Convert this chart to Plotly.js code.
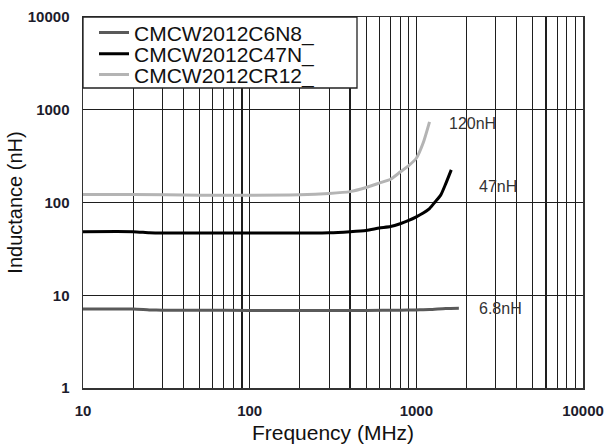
<!DOCTYPE html>
<html>
<head>
<meta charset="utf-8">
<script src="https://cdn.plot.ly/plotly-3.0.1.min.js"></script>
<style>
  html, body { margin: 0; padding: 0; background: #ffffff; }
  #chart { width: 607px; height: 448px; }
</style>
</head>
<body>
<div id="chart"></div>
<script>
// ---- data ----
const seriesNames = ['CMCW2012C6N8_', 'CMCW2012C47N_', 'CMCW2012CR12_'];

const freq6n8 = [10, 20, 25, 30, 50, 100, 200, 300, 500, 800, 1000, 1200, 1500, 1800];
const ind6n8  = [7.1, 7.1, 6.95, 6.9, 6.9, 6.85, 6.85, 6.85, 6.85, 6.9, 6.95, 7.0, 7.2, 7.25];

const freq47n = [10, 20, 25, 30, 50, 100, 200, 300, 400, 500, 600, 700, 800, 900, 1000, 1100, 1200, 1300, 1400, 1500, 1620];
const ind47n  = [48.5, 48.5, 47.2, 46.8, 46.8, 46.8, 46.8, 47.2, 48.5, 50, 53, 55, 59, 64, 70, 77, 86, 102, 120, 159, 225];

const freqR12 = [10, 20, 50, 100, 200, 300, 400, 500, 600, 700, 800, 900, 1000, 1100, 1200];
const indR12  = [122, 122, 120, 120, 121, 125, 131, 145, 162, 178, 213, 250, 300, 440, 740];

const labelTexts = ['120nH', '47nH', '6.8nH'];
const labelFreqs = [1520, 2310, 2310];
const labelInds  = [703, 148, 7.18];

const xTickVals = [10, 100, 1000, 10000];
const xTickText = ['10', '100', '1000', '10000'];
const yTickVals = [1, 10, 100, 1000, 10000];
const yTickText = ['1', '10', '100', '1000', '10000'];

const seriesColors = ['#5a5a5a', '#000000', '#b4b4b4'];

// ---- chart ----
const FONT = 'Liberation Sans, Arial, Helvetica, sans-serif';
const GRID = '#1e1e1e';

const traces = [
  { x: freq6n8, y: ind6n8, name: seriesNames[0], legend: 'legend',
    mode: 'lines', line: { color: seriesColors[0], width: 3, shape: 'spline', smoothing: 0.6 } },
  { x: freq47n, y: ind47n, name: seriesNames[1], legend: 'legend2',
    mode: 'lines', line: { color: seriesColors[1], width: 3, shape: 'spline', smoothing: 0.6 } },
  { x: freqR12, y: indR12, name: seriesNames[2], legend: 'legend3',
    mode: 'lines', line: { color: seriesColors[2], width: 3, shape: 'spline', smoothing: 0.6 } }
];

function legendAt(yPaper) {
  return {
    x: 0.022, xanchor: 'left', y: yPaper, yanchor: 'middle',
    bgcolor: 'rgba(0,0,0,0)', borderwidth: 0,
    font: { family: FONT, size: 21, color: '#111111' }
  };
}

const annotations = labelTexts.map((t, i) => ({
  x: Math.log10(labelFreqs[i]), y: Math.log10(labelInds[i]),
  xref: 'x', yref: 'y', text: t, showarrow: false,
  xanchor: 'left', yanchor: 'middle',
  font: { family: FONT, size: 16, color: '#333333' }
}));

const layout = {
  width: 607, height: 448,
  margin: { l: 83, r: 24, t: 17, b: 60 },
  paper_bgcolor: '#ffffff', plot_bgcolor: '#ffffff',
  font: { family: FONT },
  showlegend: true,
  legend: legendAt(0.957),
  legend2: legendAt(0.900),
  legend3: legendAt(0.844),
  xaxis: {
    type: 'log', range: [1, 4],
    tickmode: 'array', tickvals: xTickVals, ticktext: xTickText,
    showgrid: true, gridcolor: GRID, gridwidth: 1.1,
    minor: { dtick: 'D1', showgrid: true, gridcolor: GRID, gridwidth: 1.1, ticks: '' },
    showline: true, mirror: true, linecolor: '#333333', linewidth: 1.5,
    ticks: '', zeroline: false,
    ticklabelstandoff: 8,
    tickfont: { family: FONT, size: 15, weight: 700, color: '#1c1c2c' },
    title: { text: 'Frequency (MHz)', standoff: 8,
             font: { family: FONT, size: 21, color: '#111111' } }
  },
  yaxis: {
    type: 'log', range: [0, 4],
    tickmode: 'array', tickvals: yTickVals, ticktext: yTickText,
    showgrid: true, gridcolor: GRID, gridwidth: 1.1,
    showline: true, mirror: true, linecolor: '#333333', linewidth: 1.5,
    ticks: '', zeroline: false,
    ticklabelstandoff: 9,
    tickfont: { family: FONT, size: 15, weight: 700, color: '#1c1c2c' },
    title: { text: 'Inductance (nH)' + '\u00a0'.repeat(12), standoff: 0,
             font: { family: FONT, size: 20, color: '#111111' } }
  },
  shapes: [{
    type: 'rect', xref: 'paper', yref: 'paper',
    x0: 0, x1: 0.548, y0: 0.8086, y1: 1,
    fillcolor: '#ffffff', line: { color: '#222222', width: 1.3 }, layer: 'above'
  }],
  annotations: annotations
};

Plotly.newPlot('chart', traces, layout, { staticPlot: true, displayModeBar: false });
</script>
</body>
</html>
